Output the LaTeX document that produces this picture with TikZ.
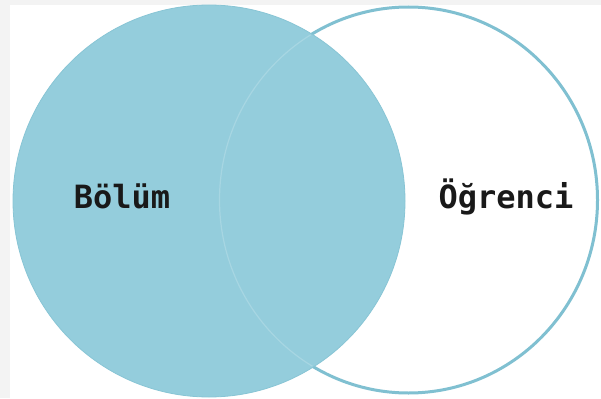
\documentclass[tikz,border=0pt]{standalone}
\usepackage{fontspec}
\newfontfamily\labelfont{DejaVu Sans Mono}
\definecolor{setblue}{RGB}{148,205,220}
\definecolor{setrim}{RGB}{136,197,213}
\definecolor{setline}{RGB}{128,192,209}
\definecolor{pagegrey}{RGB}{243,243,243}
\begin{document}
\begin{tikzpicture}[x=1pt,y=-1pt,
  setlabel/.style={font=\labelfont\bfseries\fontsize{32}{36}\selectfont,
    text=black!90, anchor=base, inner sep=0pt},
  rightset/.style={x radius=189pt, y radius=193pt},
  leftset/.style={radius=196pt}]
  % page background and white canvas
  \fill[pagegrey] (0,0) rectangle (601,398);
  \fill[white] (10,5) rectangle (601,398);
  \useasboundingbox (0,0) rectangle (601,398);
  \begin{scope}
    \clip (10,5) rectangle (601,398);
    % right set: outline only
    \draw[setline, line width=3pt] (408.5,200) ellipse [rightset];
    % left set: filled disc
    \fill[setblue] (209,201) circle [leftset];
    \draw[setrim, line width=0.8pt] (209,201) circle [leftset];
    % faint trace of the right outline inside the disc
    \begin{scope}
      \clip (209,201) circle [radius=195pt];
      \draw[white, opacity=0.18, line width=1.2pt] (408.5,200) ellipse [rightset];
    \end{scope}
  \end{scope}
  % labels
  \node[setlabel] (bolum) at (122,208) {Bölüm};
  \node[setlabel] (ogrenci) at (506,208) {Öğrenci};
\end{tikzpicture}
\end{document}
